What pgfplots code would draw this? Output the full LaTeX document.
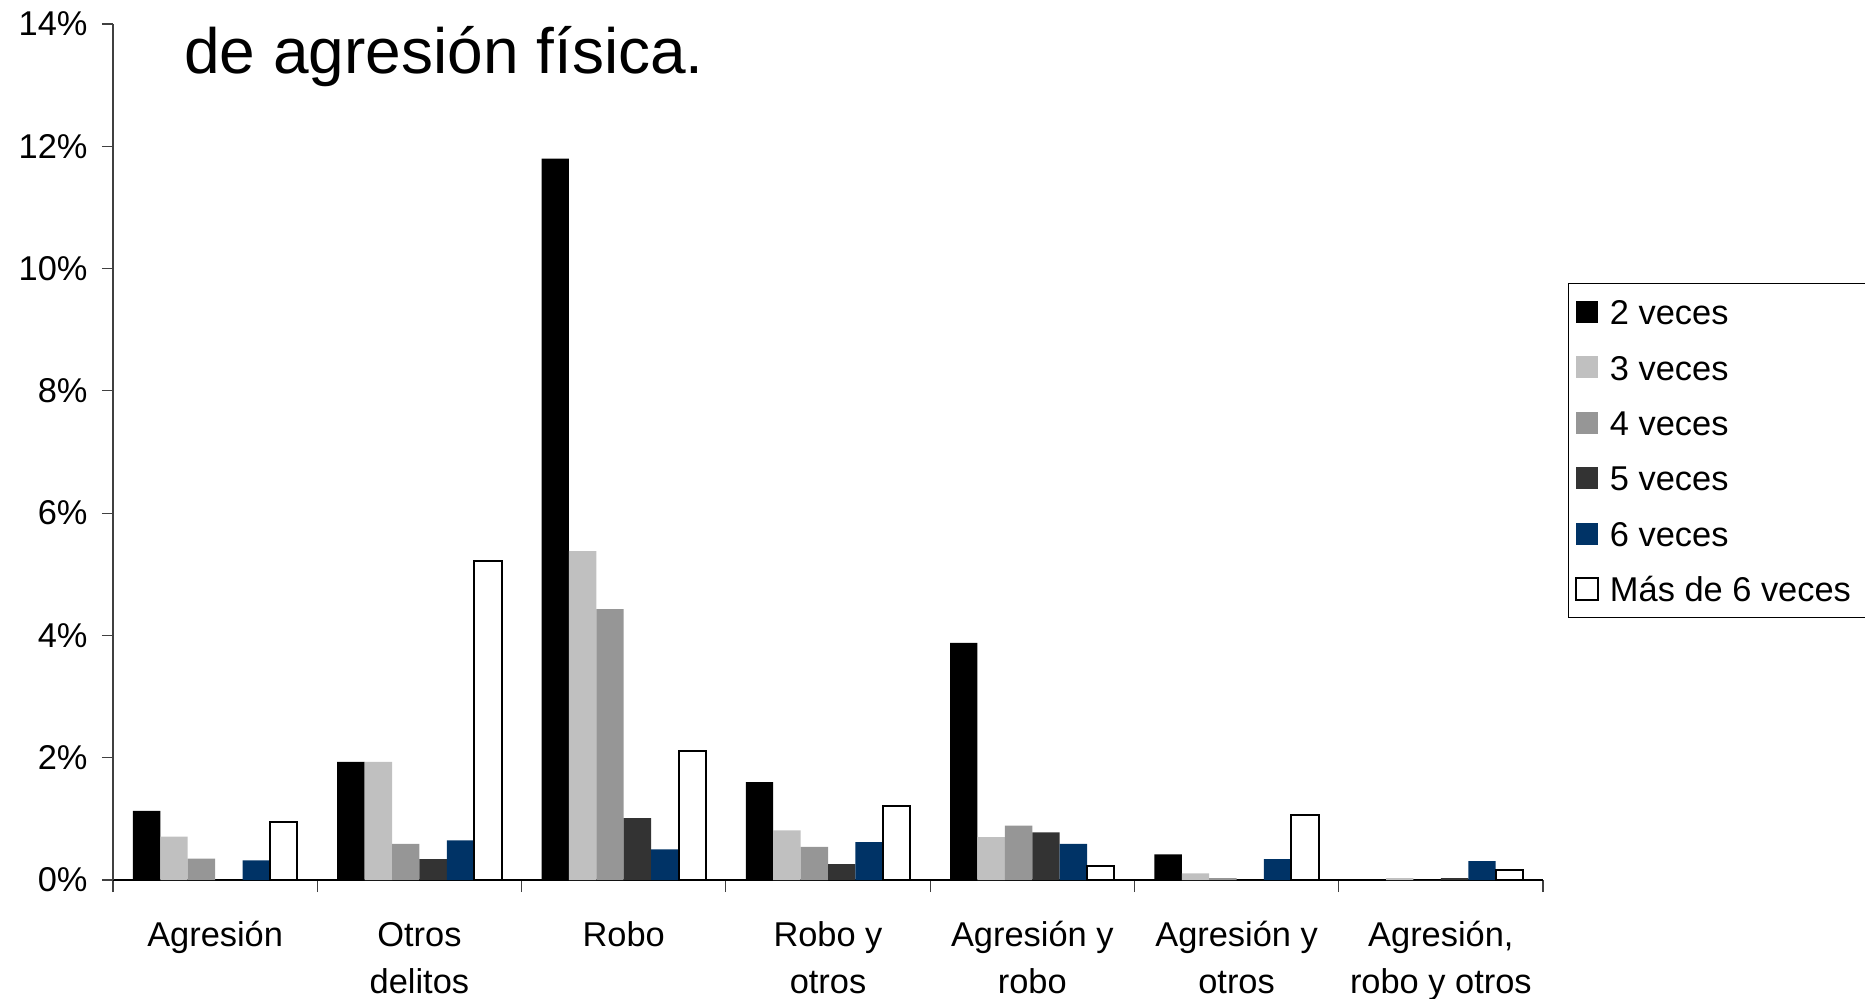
\documentclass[border=0pt]{standalone}
\usepackage{fontspec}
\setmainfont{Liberation Sans}
\usepackage{pgfplots}
\pgfplotsset{compat=1.18}
\definecolor{cA}{HTML}{000000}
\definecolor{cB}{HTML}{C0C0C0}
\definecolor{cC}{HTML}{969696}
\definecolor{cD}{HTML}{333333}
\definecolor{cE}{HTML}{003366}
\begin{document}
\begin{tikzpicture}[x=1pt,y=1pt]
\node[anchor=base west, font=\fontsize{32}{38}\selectfont, inner sep=0pt] at (92,462) {de agresión física.};
\begin{axis}[
  at={(56.5pt,59pt)}, anchor=south west,
  scale only axis, width=715pt, height=428pt,
  ybar=0pt, bar width=13.7pt,
  xmin=-0.5, xmax=6.5, ymin=0, ymax=14,
  axis lines*=left,
  x axis line style={black, line width=0.9pt},
  y axis line style={black!75, line width=0.6pt},
  tick align=outside,
  xtick={0,...,6},
  xticklabels={\strut Agresión,{\strut Otros\\delitos},\strut Robo,{\strut Robo y\\otros},{\strut Agresión y\\robo},{\strut Agresión y\\otros},{\strut Agresión,\\robo y otros}},
  major x tick style={draw=none},
  minor xtick={-0.5,0.5,...,6.5},
  minor x tick style={black!75, line width=0.6pt},
  minor tick length=6pt,
  major tick length=5.5pt,
  xticklabel style={font=\fontsize{17.2}{23.7}\selectfont, align=center, yshift=-7.4pt},
  ytick={0,2,...,14},
  y tick style={black!75, line width=0.6pt},
  yticklabel={\pgfmathprintnumber{\tick}\%},
  /pgf/number format/assume math mode=true,
  yticklabel style={font=\fontsize{17.2}{20}\selectfont, xshift=-3.7pt},
  legend style={at={(1.0172,0.6974)}, anchor=north west, draw=black, line width=0.6pt,
    font=\fontsize{17.2}{20}\selectfont, row sep=11.2pt, inner xsep=3.5pt, inner ysep=6pt,
    nodes={text height=12.5pt, text depth=0pt, inner ysep=2pt, inner xsep=5.4pt}},
  legend cell align=left,
  legend image code/.code={\path[#1] (0pt,-5.4pt) rectangle (11pt,5.6pt);},
  clip=false,
]
\addplot[fill=cA, draw=none] coordinates {(0,1.13) (1,1.93) (2,11.80) (3,1.60) (4,3.88) (5,0.42) (6,0)};
\addplot[fill=cB, draw=none] coordinates {(0,0.71) (1,1.93) (2,5.38) (3,0.81) (4,0.70) (5,0.11) (6,0.03)};
\addplot[fill=cC, draw=none] coordinates {(0,0.35) (1,0.59) (2,4.43) (3,0.54) (4,0.89) (5,0.03) (6,0)};
\addplot[fill=cD, draw=none] coordinates {(0,0) (1,0.34) (2,1.01) (3,0.26) (4,0.78) (5,0) (6,0.03)};
\addplot[fill=cE, draw=none] coordinates {(0,0.32) (1,0.65) (2,0.50) (3,0.62) (4,0.59) (5,0.34) (6,0.31)};
\addplot[fill=white, draw=black, line width=1pt] coordinates {(0,0.95) (1,5.22) (2,2.11) (3,1.21) (4,0.23) (5,1.06) (6,0.16)};
\legend{2 veces,3 veces,4 veces,5 veces,6 veces,Más de 6 veces\hspace{12pt}}
\end{axis}
\pgfresetboundingbox
\useasboundingbox (0,0) rectangle (932.5,499);
\end{tikzpicture}
\end{document}
